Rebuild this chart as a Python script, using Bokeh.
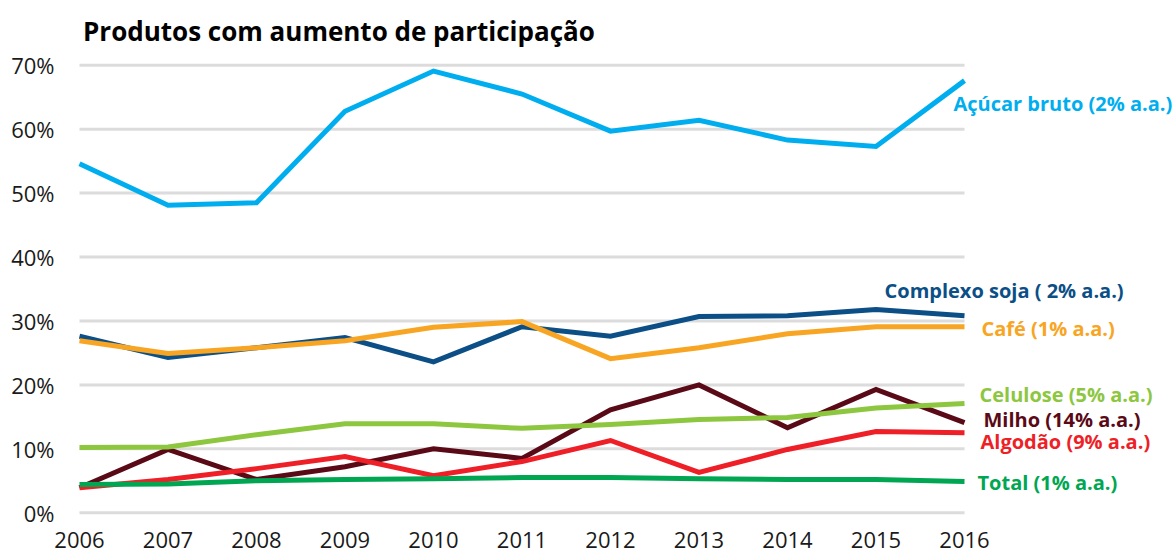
from bokeh.plotting import figure
from bokeh.models import Range1d, Label
from bokeh.core.properties import value
from bokeh.embed import file_html
from bokeh.resources import INLINE

# ---- data ----
years = [2006, 2007, 2008, 2009, 2010, 2011, 2012, 2013, 2014, 2015, 2016]
acucar = [54.6, 48.1, 48.5, 62.8, 69.1, 65.5, 59.7, 61.4, 58.3, 57.3, 67.6]
soja = [27.6, 24.3, 25.8, 27.4, 23.6, 29.1, 27.6, 30.7, 30.8, 31.8, 30.8]
cafe = [26.9, 24.9, 25.8, 26.9, 29.0, 29.9, 24.1, 25.8, 28.0, 29.1, 29.1]
milho = [3.9, 9.9, 5.2, 7.2, 10.0, 8.5, 16.1, 20.0, 13.3, 19.3, 14.1]
celulose = [10.2, 10.3, 12.2, 13.9, 13.9, 13.2, 13.8, 14.6, 14.9, 16.4, 17.1]
algodao = [3.9, 5.2, 6.9, 8.8, 5.8, 8.0, 11.3, 6.3, 9.9, 12.7, 12.5]
total = [4.4, 4.5, 5.0, 5.2, 5.3, 5.5, 5.5, 5.3, 5.2, 5.2, 4.9]

series_names = ["Açúcar bruto (2% a.a.)", "Complexo soja ( 2% a.a.)", "Café (1% a.a.)",
                "Milho (14% a.a.)", "Celulose (5% a.a.)", "Algodão (9% a.a.)", "Total (1% a.a.)"]
series_values = [acucar, soja, cafe, milho, celulose, algodao, total]
y_ticks = [0, 10, 20, 30, 40, 50, 60, 70]
y_tick_labels = [f"{t}%" for t in y_ticks]
year_labels = [str(y) for y in years]
title_text = "Produtos com aumento de participação"

# ---- styles / label placement ----
colors = ["#00AEEF", "#0B4F86", "#F8A523", "#5A0A17", "#8DC63F", "#EE1F27", "#00A651"]
label_y = [64.05, 34.77, 28.82, 14.57, 18.48, 11.12, 4.70]      # baseline, in % units
label_dx = [-11, -80, 17, 19, 15, 16, 13]                        # px from the 2016 point
year_label_y = -4.26
title_y = 75.4

FONT = "Open Sans"
PX_PER_YEAR = 88.5
PX_PER_PCT = 6.392
LEFT = 79                      # canvas px of the 2006 position
WIDTH, HEIGHT = 1172, 553
Y0 = -6.38
X0 = years[0] - LEFT / PX_PER_YEAR

p = figure(width=WIDTH, height=HEIGHT, output_backend="svg", toolbar_location=None,
           x_range=Range1d(X0, X0 + WIDTH / PX_PER_YEAR),
           y_range=Range1d(Y0, Y0 + HEIGHT / PX_PER_PCT),
           min_border_left=0, min_border_right=0, min_border_top=0, min_border_bottom=0)
p.outline_line_color = None
p.background_fill_color = "white"
p.border_fill_color = "white"
p.xgrid.grid_line_color = None
p.ygrid.grid_line_color = None
p.xaxis.visible = False
p.yaxis.visible = False

# grid lines limited to the data span
p.segment(x0=[years[0]] * len(y_ticks), x1=[years[-1]] * len(y_ticks), y0=y_ticks, y1=y_ticks,
          line_color="#DCDCDC", line_width=3)

# y tick labels
p.text(x=[years[0]] * len(y_ticks), y=y_ticks, text=y_tick_labels, x_offset=-25,
       text_font=value(FONT), text_font_size="22px", text_color="#1A1A1A",
       text_align="right", text_baseline="middle")

# year labels along the bottom
p.text(x=years, y=[year_label_y] * len(years), text=year_labels, text_font=value(FONT),
       text_font_size="22px", text_color="#1A1A1A", text_align="center",
       text_baseline="alphabetic")

for name, vals, col in zip(series_names, series_values, colors):
    p.line(years, vals, line_color=col, line_width=5, line_join="miter")

for name, ly, dx, col in zip(series_names, label_y, label_dx, colors):
    p.add_layout(Label(x=years[-1], y=ly, x_offset=dx, text=name, text_font=FONT,
                       text_font_size="20px", text_font_style="bold", text_color=col,
                       text_baseline="alphabetic", text_align="left"))

p.add_layout(Label(x=years[0], y=title_y, x_offset=3.5, text=title_text, text_font=FONT,
                   text_font_size="26px", text_font_style="bold", text_color="#000000",
                   text_baseline="alphabetic", text_align="left"))

open("out.html", "w").write(file_html(p, INLINE))
